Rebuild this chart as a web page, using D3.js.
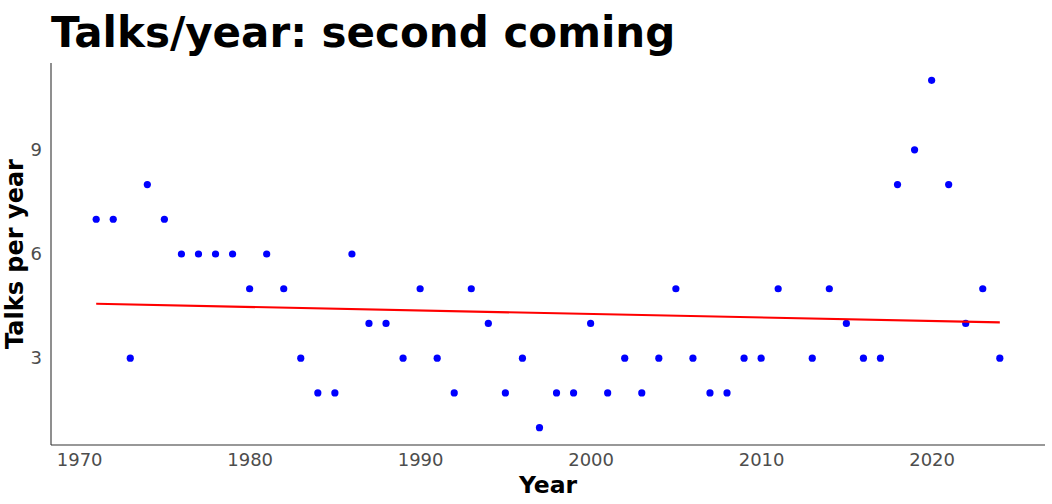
<!DOCTYPE html>
<html>
<head>
<meta charset="utf-8">
<script src="https://cdn.jsdelivr.net/npm/d3@7"></script>
<style>
  body { margin: 0; background: #fff; }
  text { font-family: "DejaVu Sans", sans-serif; }
</style>
</head>
<body>
<script>
var years = [1971, 1972, 1973, 1974, 1975, 1976, 1977, 1978, 1979, 1980,
  1981, 1982, 1983, 1984, 1985, 1986, 1987, 1988, 1989, 1990,
  1991, 1992, 1993, 1994, 1995, 1996, 1997, 1998, 1999, 2000,
  2001, 2002, 2003, 2004, 2005, 2006, 2007, 2008, 2009, 2010,
  2011, 2013, 2014, 2015, 2016, 2017, 2018, 2019, 2020, 2021,
  2022, 2023, 2024]
var talks = [7, 7, 3, 8, 7, 6, 6, 6, 6, 5,
  6, 5, 3, 2, 2, 6, 4, 4, 3, 5,
  3, 2, 5, 4, 2, 3, 1, 2, 2, 4,
  2, 3, 2, 3, 5, 3, 2, 2, 3, 3,
  5, 3, 5, 4, 3, 3, 8, 9, 11, 8,
  4, 5, 3]
var xTicks = [1970, 1980, 1990, 2000, 2010, 2020]
var yTicks = [3, 6, 9]

var width = 1052, height = 504
var margin = { top: 63, right: 7, bottom: 59, left: 51 }

var svg = d3.select("body").append("svg")
  .attr("width", width)
  .attr("height", height)

var x = d3.scaleLinear()
  .domain([1968.35, 2026.65])
  .range([margin.left, width - margin.right])

var y = d3.scaleLinear()
  .domain([0.5, 11.5])
  .range([height - margin.bottom, margin.top])

var data = years.map(function(d, i) { return { year: d, n: talks[i] } })

// linear fit
var mx = d3.mean(data, function(d) { return d.year })
var my = d3.mean(data, function(d) { return d.n })
var sxy = d3.sum(data, function(d) { return (d.year - mx) * (d.n - my) })
var sxx = d3.sum(data, function(d) { return (d.year - mx) * (d.year - mx) })
var slope = sxy / sxx
var icpt = my - slope * mx
var ext = d3.extent(years)

// points
svg.append("g").selectAll("circle")
  .data(data)
  .enter().append("circle")
    .attr("cx", function(d) { return x(d.year) })
    .attr("cy", function(d) { return y(d.n) })
    .attr("r", 3.6)
    .attr("fill", "#0000ff")

svg.append("line")
  .attr("x1", x(ext[0]))
  .attr("y1", y(icpt + slope * ext[0]))
  .attr("x2", x(ext[1]))
  .attr("y2", y(icpt + slope * ext[1]))
  .attr("stroke", "#ff0000")
  .attr("stroke-width", 2.2)

// axes
var xAxis = svg.append("g")
  .attr("transform", "translate(0," + (height - margin.bottom) + ")")
  .call(d3.axisBottom(x).tickValues(xTicks).tickFormat(d3.format("d")).tickSize(0).tickPadding(8))
var yAxis = svg.append("g")
  .attr("transform", "translate(" + margin.left + ",0)")
  .call(d3.axisLeft(y).tickValues(yTicks).tickSize(0).tickPadding(9))

svg.selectAll(".domain").remove()
svg.append("line")
  .attr("x1", margin.left).attr("x2", width - margin.right)
  .attr("y1", height - margin.bottom).attr("y2", height - margin.bottom)
  .attr("stroke", "#333").attr("stroke-width", 1.1)
svg.append("line")
  .attr("x1", margin.left).attr("x2", margin.left)
  .attr("y1", margin.top).attr("y2", height - margin.bottom)
  .attr("stroke", "#333").attr("stroke-width", 1.1)

svg.selectAll(".tick text")
  .attr("fill", "#4d4d4d")
  .style("font-size", "18px")
  .style("font-family", "DejaVu Sans")

// titles
svg.append("text")
  .attr("x", margin.left)
  .attr("y", 47)
  .style("font-size", "42px")
  .style("font-weight", "bold")
  .text("Talks/year: second coming")

svg.append("text")
  .attr("x", (margin.left + width - margin.right) / 2)
  .attr("y", 493)
  .attr("text-anchor", "middle")
  .style("font-size", "23.5px")
  .style("font-weight", "bold")
  .text("Year")

svg.append("text")
  .attr("transform", "translate(23," + ((margin.top + height - margin.bottom) / 2) + ") rotate(-90)")
  .attr("text-anchor", "middle")
  .style("font-size", "24px")
  .style("font-weight", "bold")
  .text("Talks per year")
</script>
</body>
</html>
